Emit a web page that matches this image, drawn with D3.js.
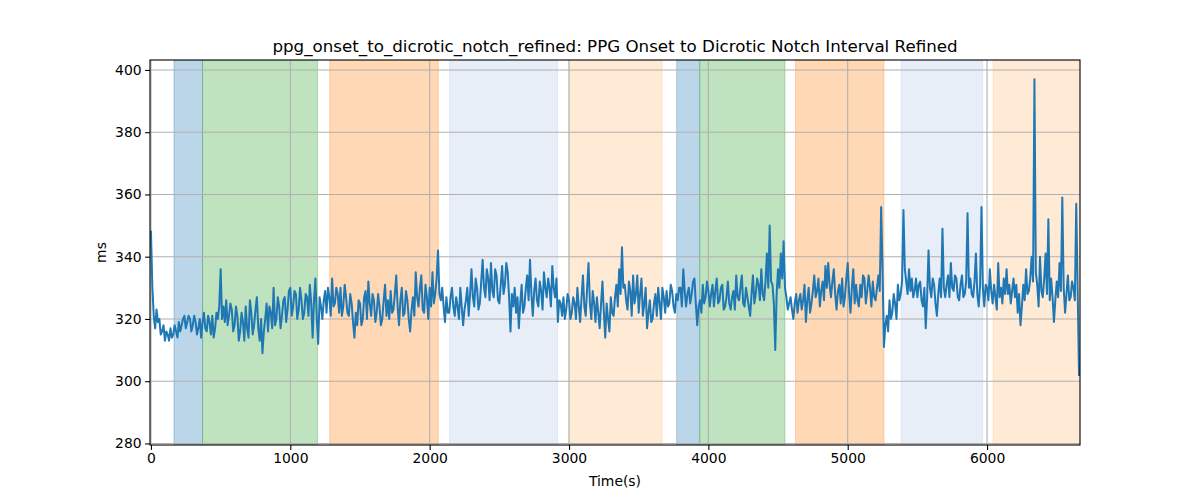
<!DOCTYPE html>
<html>
<head>
<meta charset="utf-8">
<script src="https://cdn.jsdelivr.net/npm/d3@7"></script>
<style>
  html, body { margin: 0; padding: 0; background: #fff; }
  svg { display: block; font-family: "DejaVu Sans", sans-serif; }
</style>
</head>
<body>
<svg id="chart" width="1200" height="500"></svg>
<script>
// ---- data ----
const chartTitle = "ppg_onset_to_dicrotic_notch_refined: PPG Onset to Dicrotic Notch Interval Refined";
const xLabel = "Time(s)";
const yLabel = "ms";
const timeStep = 10; // seconds between samples
const values = [
  348,330,321,317,323,319,320,315,316,318,313,316,315,313,317,314,315,318,316,314,
  319,316,318,320,321,317,319,321,320,316,318,321,319,315,317,320,314,319,322,317,
  316,321,319,315,321,314,317,322,320,324,336,320,324,319,326,318,321,325,323,316,
  318,324,321,313,316,322,319,313,324,317,314,326,322,315,318,323,327,317,313,320,
  309,316,320,325,316,324,322,317,330,318,320,327,324,317,321,326,327,319,323,329,
  330,321,324,329,328,320,323,330,326,320,322,328,327,321,331,325,314,326,333,320,
  312,327,324,320,326,329,322,330,327,321,333,324,325,330,328,322,330,321,324,331,
  327,322,321,328,325,319,314,322,318,326,325,318,320,327,329,320,332,325,321,328,
  326,319,322,328,324,318,320,326,331,321,326,320,329,322,323,328,334,324,318,326,
  330,321,322,329,326,320,316,323,327,321,335,327,324,330,334,323,322,331,327,320,
  330,324,335,325,328,333,342,328,326,330,324,319,327,322,322,327,330,324,321,327,
  324,320,330,324,318,323,326,330,321,328,336,327,324,333,330,323,325,332,339,330,
  327,336,333,326,338,329,327,336,334,326,325,331,337,328,331,338,335,327,316,328,
  324,330,322,327,317,325,331,322,324,330,334,326,339,328,321,329,333,326,324,332,
  329,323,335,330,327,333,330,324,337,330,327,333,319,326,325,321,327,320,323,328,
  326,320,322,327,325,320,330,324,319,327,334,324,321,330,338,325,320,329,325,319,
  327,322,317,325,332,322,314,325,320,316,327,322,321,327,331,324,336,328,343,330,
  331,326,323,332,329,321,334,325,328,334,322,328,333,321,325,330,317,322,326,319,
  320,325,328,321,330,325,320,330,327,322,329,324,325,331,329,324,322,328,326,330,
  330,324,336,329,324,328,330,325,328,332,333,325,318,324,326,322,331,325,327,332,
  329,324,328,331,324,329,333,325,326,330,331,323,324,327,332,325,323,327,329,323,
  334,327,326,330,334,325,324,330,327,324,321,328,334,325,328,333,331,326,336,328,
  326,332,341,330,350,332,331,325,310,328,336,330,341,333,345,330,327,323,325,327,
  323,320,325,328,322,326,328,323,326,331,319,326,330,322,325,329,334,327,329,333,
  324,329,332,326,337,330,338,331,327,332,336,328,323,329,331,325,333,324,327,333,
  338,328,322,330,336,325,331,326,324,331,327,334,333,325,329,334,330,324,332,327,
  326,330,334,329,356,336,311,318,321,316,326,320,322,328,325,320,331,326,328,332,
  355,336,332,328,336,329,333,327,329,333,327,331,332,326,324,330,317,327,342,330,
  327,333,331,325,321,328,333,327,349,330,327,331,334,327,338,330,329,334,333,327,
  326,331,334,327,328,332,354,330,333,328,327,332,341,328,324,331,356,330,324,331,
  330,326,336,329,325,331,327,323,338,327,330,325,333,328,336,328,331,325,329,333,
  327,331,322,328,318,324,331,326,336,328,329,333,340,332,397,335,331,324,340,329,
  327,333,341,328,352,326,333,327,319,326,332,327,338,329,359,330,322,328,334,326,
  327,332,330,326,357,330,302
];
const spanStarts = [165, 370, 1283, 2143, 2999, 3773, 3938, 4626, 5384, 6043];
const spanEnds   = [370, 1195, 2062, 2918, 3668, 3938, 4550, 5260, 5969, 6670];
const spanColors = ["#1f77b4", "#2ca02c", "#ff7f0e", "#aec7e8", "#ffbb78",
                    "#1f77b4", "#2ca02c", "#ff7f0e", "#aec7e8", "#ffbb78"];
const xTicks = [0, 1000, 2000, 3000, 4000, 5000, 6000];
const yTicks = [280, 300, 320, 340, 360, 380, 400];
const xDomain = [-7, 6667];
const yDomain = [279.5, 403.2];

// ---- layout ----
const mLeft = 150, mRight = 1080, mTop = 60, mBottom = 445;
const svg = d3.select("#chart");
const x = d3.scaleLinear().domain(xDomain).range([mLeft, mRight]);
const y = d3.scaleLinear().domain(yDomain).range([mBottom, mTop]);
const data = values.map((v, i) => ({t: i * timeStep, v}));

svg.append("defs").append("clipPath").attr("id", "clip")
  .append("rect").attr("x", mLeft).attr("y", mTop)
  .attr("width", mRight - mLeft).attr("height", mBottom - mTop);

const plot = svg.append("g").attr("clip-path", "url(#clip)");

// spans
plot.selectAll("rect.span").data(spanStarts.map((s, i) => ({s, e: spanEnds[i], c: spanColors[i]})))
  .enter().append("rect").attr("class", "span")
  .attr("x", d => x(d.s)).attr("width", d => x(d.e) - x(d.s))
  .attr("y", mTop).attr("height", mBottom - mTop)
  .attr("fill", d => d.c).attr("fill-opacity", 0.3)
  .attr("stroke", d => d.c).attr("stroke-opacity", 0.3).attr("stroke-width", 1);

// grid
const gridG = svg.append("g");
gridG.selectAll("line.gx").data(xTicks).enter().append("line")
  .attr("x1", d => x(d)).attr("x2", d => x(d)).attr("y1", mTop).attr("y2", mBottom)
  .attr("stroke", "#b0b0b0").attr("stroke-width", 1.1);
gridG.selectAll("line.gy").data(yTicks).enter().append("line")
  .attr("x1", mLeft).attr("x2", mRight).attr("y1", d => y(d)).attr("y2", d => y(d))
  .attr("stroke", "#b0b0b0").attr("stroke-width", 1.1);

// line
svg.append("g").attr("clip-path", "url(#clip)").append("path").datum(data)
  .attr("fill", "none").attr("stroke", "#1f77b4").attr("stroke-width", 2)
  .attr("stroke-linejoin", "round").attr("stroke-linecap", "square")
  .attr("d", d3.line().x(d => x(d.t)).y(d => y(d.v)));

// axes
const xAxis = svg.append("g").attr("transform", `translate(0,${mBottom})`)
  .call(d3.axisBottom(x).tickValues(xTicks).tickSize(4.9).tickPadding(3.5).tickFormat(d3.format("d")));
const yAxis = svg.append("g").attr("transform", `translate(${mLeft},0)`)
  .call(d3.axisLeft(y).tickValues(yTicks).tickSize(4.9).tickPadding(3.5).tickFormat(d3.format("d")));
[xAxis, yAxis].forEach(g => {
  g.select(".domain").remove();
  g.selectAll(".tick line").attr("stroke", "#000").attr("stroke-width", 1.1);
  g.selectAll(".tick text").attr("fill", "#000").style("font-size", "13.9px")
    .style("font-family", "'DejaVu Sans', sans-serif");
});

// spines
svg.append("rect").attr("x", mLeft).attr("y", mTop)
  .attr("width", mRight - mLeft).attr("height", mBottom - mTop)
  .attr("fill", "none").attr("stroke", "#000").attr("stroke-width", 1.1);

// labels
svg.append("text").attr("x", (mLeft + mRight) / 2).attr("y", 52)
  .attr("text-anchor", "middle").style("font-size", "16.7px").attr("fill", "#000")
  .text(chartTitle);
svg.append("text").attr("x", (mLeft + mRight) / 2).attr("y", 486)
  .attr("text-anchor", "middle").style("font-size", "13.9px").attr("fill", "#000")
  .text(xLabel);
svg.append("text").attr("transform", `translate(106,${(mTop + mBottom) / 2}) rotate(-90)`)
  .attr("text-anchor", "middle").style("font-size", "13.9px").attr("fill", "#000")
  .text(yLabel);
</script>
</body>
</html>
